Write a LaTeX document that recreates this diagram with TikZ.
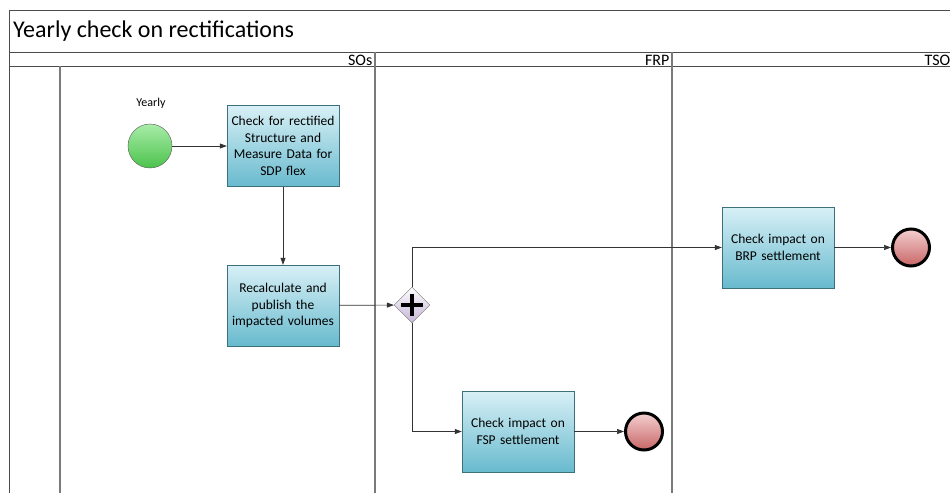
\documentclass[tikz,border=0pt]{standalone}
\usepackage{fontspec}
\setmainfont{Carlito}
\usetikzlibrary{shapes.geometric,arrows.meta,calc}
\definecolor{boxtop}{HTML}{D8F0F6}
\definecolor{boxbot}{HTML}{68BACE}
\definecolor{boxline}{HTML}{3E6F7C}
\definecolor{gtop}{HTML}{A8EDA8}
\definecolor{gbot}{HTML}{4CC24C}
\definecolor{rtop}{HTML}{F3CFCF}
\definecolor{rbot}{HTML}{C86666}
\definecolor{ptop}{HTML}{FFFFFF}
\definecolor{pbot}{HTML}{C4B4D6}
\definecolor{laneline}{HTML}{7A7A7A}
\tikzset{
  task/.style={draw=boxline, top color=boxtop, bottom color=boxbot, minimum width=112pt, minimum height=81pt, inner sep=0pt, align=center, font=\fontsize{13.5}{16.5}\selectfont, text width=112pt},
  startev/.style={circle, draw=black!65, top color=gtop, bottom color=gbot, minimum size=44pt, inner sep=0pt},
  endev/.style={circle, draw=black, line width=3pt, top color=rtop, bottom color=rbot, minimum size=37pt, inner sep=0pt},
  gate/.style={diamond, draw=black!55, top color=ptop, bottom color=pbot, minimum width=36pt, minimum height=36pt, inner sep=0pt},
  flow/.style={draw=black!80, line width=0.7pt, -{Triangle[length=7pt,width=5pt]}},
  frame/.style={draw=black!70, line width=0.8pt},
  lane/.style={draw=laneline, line width=1.2pt},
  lanelabel/.style={anchor=south east, inner sep=0.5pt, font=\fontsize{16}{16}\selectfont}
}
\begin{document}
\begin{tikzpicture}[x=1pt,y=-1pt]
\useasboundingbox (0,0) rectangle (950,493);
\fill[white] (0,0) rectangle (950,493);
% frame
\draw[frame] (9,493) -- (9,10) -- (980,10);
\draw[frame] (9,52) -- (980,52);
\draw[frame] (9,66) -- (980,66);
\node[anchor=west, font=\fontsize{24}{24}\selectfont, inner sep=0pt] (title) at (13,31) {Yearly check on rectifications};
% lanes
\draw[lane] (60,66) -- (60,493);
\draw[lane] (375,52) -- (375,493);
\draw[lane] (672,52) -- (672,493);
\node[lanelabel] (lso) at (373,66) {SOs};
\node[lanelabel] (lfrp) at (670,66) {FRP};
\node[lanelabel] (ltso) at (951,66) {TSO};
% nodes
\node[startev] (start) at (150,146) {};
\node[font=\fontsize{12}{12}\selectfont] (yearly) at (151,103) {Yearly};
\node[task] (t1) at (283,146) {Check for rectified\\Structure and\\Measure Data for\\SDP flex};
\node[task] (t2) at (283,305.5) {Recalculate and\\publish the\\impacted volumes};
\node[gate] (gw) at (412,305) {};
\draw[line width=3.2pt] ($(gw.center)+(-11,0)$) -- ($(gw.center)+(11,0)$);
\draw[line width=3.2pt] ($(gw.center)+(0,-11)$) -- ($(gw.center)+(0,11)$);
\node[task] (t3) at (778,247.5) {Check impact on\\BRP settlement};
\node[task] (t4) at (518,431.5) {Check impact on\\FSP settlement};
\node[endev] (e1) at (911,247.5) {};
\node[endev] (e2) at (644,431.5) {};
% flows
\draw[flow] (start) -- (t1);
\draw[flow] (t1) -- (t2);
\draw[flow] (t2) -- (gw);
\draw[flow] (gw.north) |- (t3.west);
\draw[flow] (gw.south) |- (t4.west);
\draw[flow] (t3) -- (e1);
\draw[flow] (t4) -- (e2);
\end{tikzpicture}
\end{document}
